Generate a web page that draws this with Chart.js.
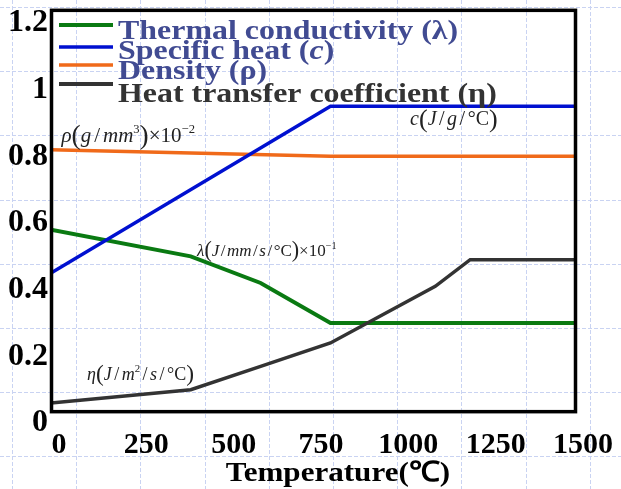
<!DOCTYPE html>
<html lang="en">
<head>
<meta charset="UTF-8" />
<title>Thermophysical properties vs temperature</title>
<script src="https://cdn.jsdelivr.net/npm/chart.js"></script>
<style>
  html, body { margin: 0; padding: 0; background: #fff; }
  #wrap { width: 621px; height: 489px; }
</style>
</head>
<body>
<div id="wrap"><canvas id="props"></canvas></div>
<script>
  // axis ticks
  const xTicks = [0, 250, 500, 750, 1000, 1250, 1500];
  const yTicks = [0, 0.2, 0.4, 0.6, 0.8, 1, 1.2];

  // series (temperature in °C, scaled property value)
  const condTemps = [0, 400, 600, 800, 1500];
  const condValues = [0.58, 0.50, 0.42, 0.30, 0.30];
  const heatTemps = [0, 800, 1500];
  const heatValues = [0.45, 0.95, 0.95];
  const densTemps = [0, 800, 1500];
  const densValues = [0.82, 0.80, 0.80];
  const htcTemps = [0, 400, 600, 800, 1100, 1200, 1500];
  const htcValues = [0.06, 0.10, 0.17, 0.24, 0.41, 0.49, 0.49];

  const seriesNames = ['Thermal conductivity', 'Specific heat', 'Density', 'Heat transfer coefficient'];
  const seriesSymbols = ['λ', 'c', 'ρ', 'η'];
  const seriesColors = ['#0a7a12', '#0010d0', '#f06a1a', '#333333'];

  const SERIF = '"Liberation Serif", "Times New Roman", serif';

  function pairs(xs, ys) {
    return xs.map((x, i) => ({ x: x, y: ys[i] }));
  }

  // draws a row of text pieces, each with its own style; gap pads slashes
  function drawRuns(ctx, x, y, runs, size, weight, gap) {
    for (const r of runs) {
      let fs = size, dy = 0;
      if (r.sup) { fs = size * 0.6; dy = -size * 0.42; }
      if (r.big) { fs = size * 1.3; dy = size * 0.08; }
      ctx.font = `${r.it ? 'italic ' : ''}${weight || ''} ${fs}px ${SERIF}`;
      if (r.t === '/') x += gap || 0;
      ctx.fillText(r.t, x, y + dy);
      x += ctx.measureText(r.t).width;
      if (r.t === '/') x += gap || 0;
    }
  }

  // unit labels next to the curves, anchored in data coordinates
  const unitLabels = [
    { x: 30, y: 0.843, size: 21, gap: 3, runs: [{ t: 'ρ', it: 1 }, { t: '(', big: 1 }, { t: 'g', it: 1 }, { t: '/' }, { t: 'mm', it: 1 }, { t: '3', sup: 1 }, { t: ')', big: 1 }, { t: '×10' }, { t: '−2', sup: 1 }] },
    { x: 1028, y: 0.894, size: 20, gap: 2.5, runs: [{ t: 'c', it: 1 }, { t: '(', big: 1 }, { t: 'J', it: 1 }, { t: '/' }, { t: 'g', it: 1 }, { t: '/' }, { t: '°C' }, { t: ')', big: 1 }] },
    { x: 418, y: 0.501, size: 17, gap: 1.5, runs: [{ t: 'λ', it: 1 }, { t: '(', big: 1 }, { t: 'J', it: 1 }, { t: '/' }, { t: 'mm', it: 1 }, { t: '/' }, { t: 's', it: 1 }, { t: '/' }, { t: '°C' }, { t: ')', big: 1 }, { t: '×10' }, { t: '−1', sup: 1 }] },
    { x: 103, y: 0.129, size: 18, gap: 2.5, runs: [{ t: 'η', it: 1 }, { t: '(', big: 1 }, { t: 'J', it: 1 }, { t: '/' }, { t: 'm', it: 1 }, { t: '2', sup: 1 }, { t: '/' }, { t: 's', it: 1 }, { t: '/' }, { t: '°C' }, { t: ')', big: 1 }] }
  ];

  const backdrop = {
    id: 'backdrop',
    beforeDraw(chart) {
      const ctx = chart.ctx;
      ctx.save();
      ctx.fillStyle = '#fff';
      ctx.fillRect(0, 0, chart.width, chart.height);
      ctx.strokeStyle = '#c9d3f2';
      ctx.lineWidth = 1;
      ctx.setLineDash([4, 2]);
      ctx.beginPath();
      for (let x = 12; x < chart.width; x += 64.2) {
        ctx.moveTo(Math.round(x) + 0.5, 0);
        ctx.lineTo(Math.round(x) + 0.5, chart.height);
      }
      for (let y = 7; y < chart.height; y += 64.2) {
        ctx.moveTo(0, Math.round(y) + 0.5);
        ctx.lineTo(chart.width, Math.round(y) + 0.5);
      }
      ctx.stroke();
      ctx.restore();
    }
  };

  const decorations = {
    id: 'decorations',
    afterDatasetsDraw(chart) {
      const ctx = chart.ctx;
      const xs = chart.scales.x, ys = chart.scales.y;
      ctx.save();

      // plot frame
      ctx.strokeStyle = '#000';
      ctx.lineWidth = 3.5;
      const top = ys.getPixelForValue(1.238);
      const bottom = ys.getPixelForValue(0.034);
      ctx.strokeRect(xs.left + 0.5, top, xs.right - xs.left, bottom - top);

      // unit labels
      ctx.fillStyle = '#222';
      ctx.textBaseline = 'alphabetic';
      for (const lab of unitLabels) {
        drawRuns(ctx, xs.getPixelForValue(lab.x), ys.getPixelForValue(lab.y), lab.runs, lab.size, '', lab.gap);
      }

      // axis title, set slightly right of centre and stretched wide
      ctx.fillStyle = '#000';
      ctx.font = `bold 28px ${SERIF}`;
      ctx.textAlign = 'center';
      ctx.save();
      ctx.translate(338, 481);
      ctx.scale(1.11, 1);
      ctx.fillText('Temperature(℃)', 0, 0);
      ctx.restore();
      ctx.textAlign = 'left';

      // legend, rows overlap in the original layout
      const lineY = [25, 47, 65, 84];
      const textY = [39, 59, 79, 102];
      const lineW = [4, 3.5, 3.5, 4];
      chart.data.datasets.forEach((ds, i) => {
        ctx.strokeStyle = ds.borderColor;
        ctx.lineWidth = lineW[i];
        ctx.beginPath();
        ctx.moveTo(59, lineY[i]);
        ctx.lineTo(113, lineY[i]);
        ctx.stroke();
        ctx.fillStyle = i < 3 ? '#414b92' : '#333';
        const sym = seriesSymbols[i];
        ctx.save();
        ctx.translate(118, textY[i]);
        ctx.scale(1.14, 1);
        drawRuns(ctx, 0, 0, [
          { t: seriesNames[i] + ' (' },
          { t: sym, it: sym === 'c' },
          { t: ')' }
        ], 28, 'bold');
        ctx.restore();
      });
      ctx.restore();
    }
  };

  const datasets = seriesNames.map((name, i) => ({
    label: name + ' (' + seriesSymbols[i] + ')',
    data: pairs([condTemps, heatTemps, densTemps, htcTemps][i], [condValues, heatValues, densValues, htcValues][i]),
    borderColor: seriesColors[i],
    borderWidth: i === 0 ? 4 : 3.5,
    pointRadius: 0,
    tension: 0,
    fill: false,
    order: [3, 1, 2, 0][i]
  }));

  new Chart(document.getElementById('props'), {
    type: 'line',
    data: { datasets: datasets },
    plugins: [backdrop, decorations],
    options: {
      responsive: true,
      maintainAspectRatio: false,
      animation: false,
      layout: { padding: { top: 23, right: 46, left: 0, bottom: 0 } },
      plugins: {
        legend: { display: false },
        tooltip: { enabled: false }
      },
      scales: {
        x: {
          type: 'linear',
          min: 0,
          max: 1500,
          afterBuildTicks: (axis) => { axis.ticks = xTicks.map(v => ({ value: v })); },
          afterFit: (axis) => { axis.height = 66; },
          grid: { display: false, drawTicks: false },
          border: { display: false },
          ticks: {
            color: '#000',
            padding: 4,
            labelOffset: 8,
            maxRotation: 0,
            autoSkip: false,
            callback: (v) => String(v),
            font: { family: SERIF, size: 30, weight: 'bold' }
          }
        },
        y: {
          min: 0,
          max: 1.2,
          afterBuildTicks: (axis) => { axis.ticks = yTicks.map(v => ({ value: v })); },
          afterFit: (axis) => { axis.width = 51; },
          grid: { display: false, drawTicks: false },
          border: { display: false },
          ticks: {
            color: '#000',
            padding: 3,
            callback: (v) => String(v),
            font: { family: SERIF, size: 32, weight: 'bold' }
          }
        }
      }
    }
  });
</script>
</body>
</html>
